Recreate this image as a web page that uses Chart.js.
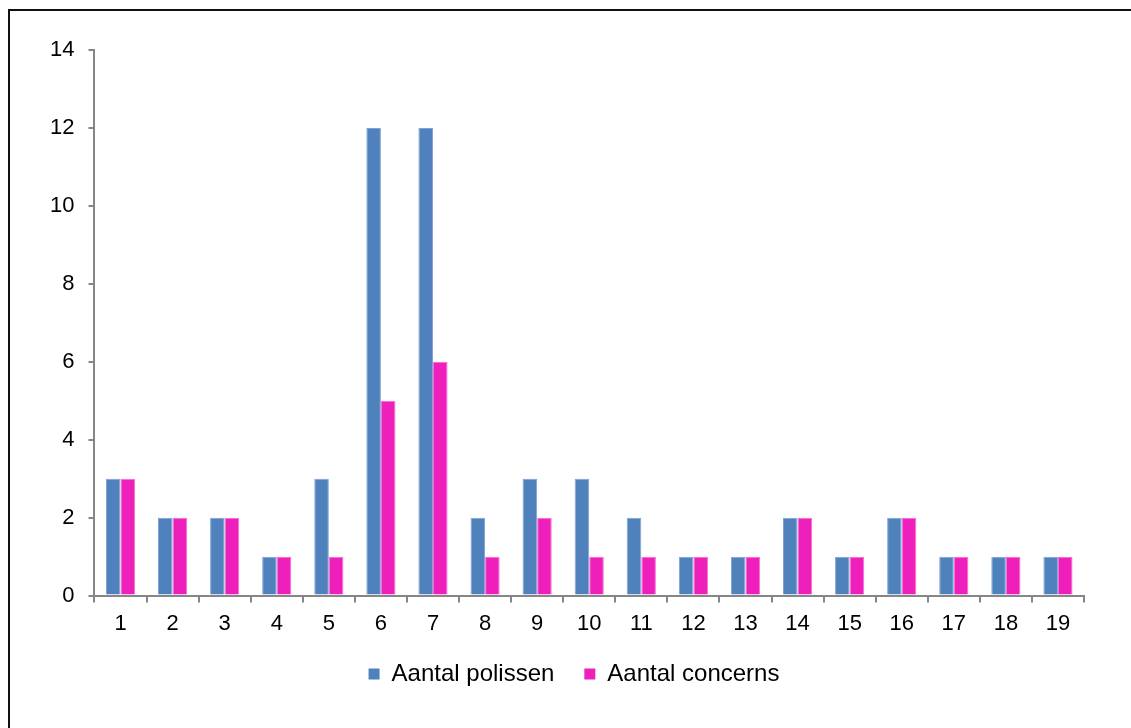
<!DOCTYPE html>
<html lang="nl">
<head>
    <meta charset="UTF-8">
    <title>Aantal polissen / concerns</title>
    <style>
        html, body {
            margin: 0;
            padding: 0;
            background: #fff;
        }
        .wrap {
            position: relative;
            width: 1131px;
            height: 728px;
            overflow: hidden;
        }
        .frame {
            position: absolute;
            left: 8px;
            top: 9px;
            width: 1140px;
            height: 740px;
            border-top: 2px solid #111;
            border-left: 2px solid #111;
        }
        #chart {
            position: absolute;
            left: 0;
            top: 0;
        }
    </style>
</head>
<body>
    <div class="wrap">
        <div class="frame"></div>
        <canvas id="chart" width="1131" height="728"></canvas>
    </div>
<script src="https://cdn.jsdelivr.net/npm/chart.js"></script>
<script>
    const labels = ['1','2','3','4','5','6','7','8','9','10','11','12','13','14','15','16','17','18','19'];
    const polissen = [3, 2, 2, 1, 3, 12, 12, 2, 3, 3, 2, 1, 1, 2, 1, 2, 1, 1, 1];
    const concerns = [3, 2, 2, 1, 1, 5, 6, 1, 2, 1, 1, 1, 1, 2, 1, 2, 1, 1, 1];

    const axisColor = '#868686';
    const font = "'Liberation Sans', Arial, sans-serif";

    // legend sits a bit right of the canvas centre in the original
    const shiftLegend = {
        id: 'shiftLegend',
        afterLayout(chart) {
            chart.legend.left += 14;
            chart.legend.right += 14;
        }
    };

    new Chart(document.getElementById('chart'), {
        type: 'bar',
        data: {
            labels: labels,
            datasets: [{
                label: 'Aantal polissen',
                data: polissen,
                backgroundColor: '#4F81BD',
                borderColor: '#7FA3D3',
                borderWidth: 1
            }, {
                label: 'Aantal concerns',
                data: concerns,
                backgroundColor: '#EE1FBB',
                borderColor: '#F46FD4',
                borderWidth: 1
            }]
        },
        options: {
            responsive: false,
            animation: false,
            layout: {
                padding: { left: 36, right: 47, top: 50, bottom: 32 }
            },
            datasets: {
                bar: {
                    categoryPercentage: 0.56,
                    barPercentage: 1.0
                }
            },
            scales: {
                x: {
                    offset: true,
                    afterFit: (scale) => { scale.height -= 13; },
                    grid: {
                        offset: true,
                        drawOnChartArea: false,
                        color: axisColor,
                        tickLength: 7,
                        lineWidth: 2
                    },
                    border: { color: axisColor, width: 2 },
                    ticks: {
                        color: '#000',
                        font: { family: font, size: 22 },
                        padding: 8
                    }
                },
                y: {
                    min: 0,
                    max: 14,
                    grid: {
                        drawOnChartArea: false,
                        color: axisColor,
                        tickLength: 6,
                        lineWidth: 2
                    },
                    border: { color: axisColor, width: 2 },
                    ticks: {
                        stepSize: 2,
                        color: '#000',
                        font: { family: font, size: 22 },
                        padding: 14
                    }
                }
            },
            plugins: {
                tooltip: { enabled: false },
                legend: {
                    position: 'bottom',
                    labels: {
                        color: '#000',
                        font: { family: font, size: 24 },
                        boxWidth: 11,
                        boxHeight: 11,
                        padding: 30,
                        generateLabels: (chart) => chart.data.datasets.map((ds, i) => ({
                            text: ds.label,
                            fillStyle: ds.backgroundColor,
                            strokeStyle: ds.backgroundColor,
                            lineWidth: 0,
                            datasetIndex: i,
                            fontColor: '#000'
                        }))
                    }
                }
            }
        },
        plugins: [shiftLegend]
    });
</script>
</body>
</html>
